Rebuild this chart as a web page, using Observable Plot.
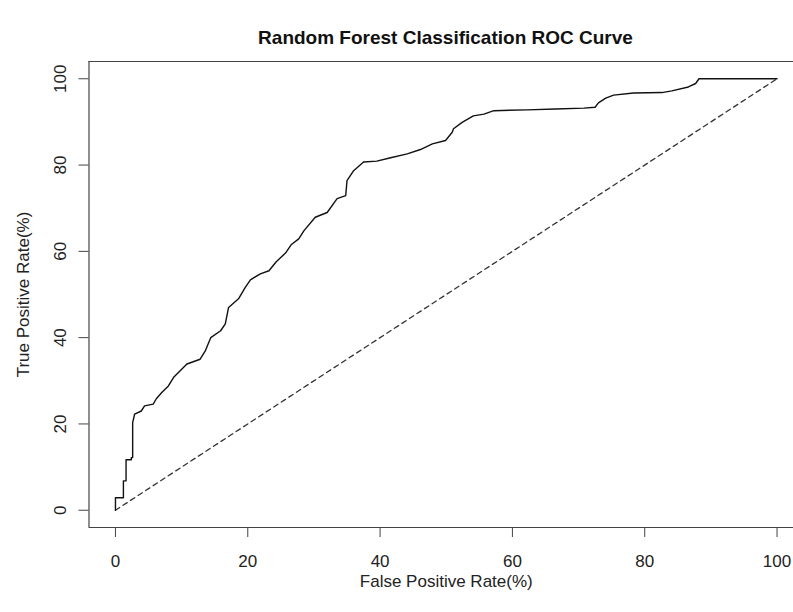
<!DOCTYPE html>
<html>
<head>
<meta charset="utf-8">
<script src="https://cdn.jsdelivr.net/npm/d3@7"></script>
<script src="https://cdn.jsdelivr.net/npm/@observablehq/plot@0.6"></script>
<style>
  html, body { margin: 0; padding: 0; background: #fff; overflow: hidden; }
  #wrap { width: 793px; height: 612px; overflow: hidden; position: relative; font-family: "Liberation Sans", Arial, sans-serif; }
  #title { width: 793px; height: 60px; box-sizing: border-box; padding-top: 27px; padding-left: 98px; text-align: center; font-weight: bold; font-size: 19px; line-height: 22px; color: #111; }
  #chart { width: 803px; }
  #chart svg { max-width: none !important; }
</style>
</head>
<body>
<div id="wrap">
  <div id="title">Random Forest Classification ROC Curve</div>
  <div id="chart"></div>
</div>
<script>
const titleText = "Random Forest Classification ROC Curve";
const xLabel = "False Positive Rate(%)";
const yLabel = "True Positive Rate(%)";
const xTicks = [0, 20, 40, 60, 80, 100];
const yTicks = [0, 20, 40, 60, 80, 100];
const axisLimits = [-4, 104];

// ROC curve vertices (percent)
const fpr = [0, 0, 1.2, 1.2, 1.6, 1.6, 2.4, 2.4, 2.6, 2.6, 2.9, 3.9, 4.4, 5.7, 6.2, 7.0, 8.0, 8.8,
  10.8, 12.8, 13.6, 14.4, 15.9, 16.6, 17.1, 18.6, 19.6, 20.4, 21.9, 23.2, 24.3, 25.7, 26.6, 27.7,
  28.5, 30.2, 32.0, 33.5, 34.8, 35.0, 36.0, 37.5, 39.5, 41.6, 44.1, 46.1, 47.9, 49.9, 50.9, 51.1,
  52.4, 54.1, 55.7, 57.2, 62.2, 66.5, 70.8, 72.5, 73.0, 74.1, 75.3, 78.3, 82.6, 84.1, 86.6, 87.7,
  88.2, 100];
const tpr = [0, 2.9, 2.9, 6.8, 6.8, 11.7, 11.7, 12.2, 12.2, 20.3, 22.3, 23.0, 24.2, 24.6, 25.9, 27.3, 28.8, 30.8,
  33.9, 35.0, 37.0, 40.0, 41.6, 43.2, 47.0, 49.0, 51.6, 53.4, 54.8, 55.5, 57.6, 59.6, 61.6, 62.9,
  64.8, 67.9, 69.0, 72.2, 72.9, 76.4, 78.7, 80.7, 80.9, 81.7, 82.6, 83.6, 84.9, 85.7, 87.6, 88.4,
  89.9, 91.4, 91.8, 92.6, 92.8, 93.0, 93.2, 93.4, 94.4, 95.5, 96.2, 96.7, 96.8, 97.2, 98.1, 98.9,
  100, 100];
const chanceX = [0, 100];
const chanceY = [0, 100];

const roc = fpr.map((x, i) => ({x, y: tpr[i]}));
const chance = chanceX.map((x, i) => ({x, y: chanceY[i]}));

const chart = Plot.plot({
  width: 803,
  height: 552,
  marginLeft: 88.5,
  marginRight: 0,
  marginTop: 1,
  marginBottom: 85,
  style: {fontFamily: "'Liberation Sans', Arial, sans-serif", fontSize: "17px", color: "#222", background: "#fff", maxWidth: "none"},
  x: {domain: axisLimits, label: null},
  y: {domain: axisLimits, label: null},
  marks: [
    Plot.ruleY(axisLimits, {stroke: "#444", strokeWidth: 1.2}),
    Plot.ruleX([axisLimits[0]], {stroke: "#444", strokeWidth: 1.2}),
    Plot.axisX({ticks: xTicks, tickSize: 10, tickPadding: 17, tickFormat: d => String(d), label: null, stroke: "#444", fontSize: 17, fill: "#222"}),
    Plot.axisY({ticks: yTicks, tickSize: 10, tickFormat: () => "", label: null, stroke: "#444"}),
    Plot.text(yTicks, {y: d => d, text: d => String(d), frameAnchor: "left", textAnchor: "middle", lineAnchor: "middle", dx: -28.5, rotate: -90, fontSize: 17, fill: "#222"}),
    Plot.text([xLabel], {x: () => 50, text: d => d, frameAnchor: "bottom", lineAnchor: "middle", dy: 54, fontSize: 17, fill: "#222"}),
    Plot.text([yLabel], {text: d => d, frameAnchor: "left", textAnchor: "middle", lineAnchor: "middle", dx: -65.5, rotate: -90, fontSize: 17, fill: "#222"}),
    Plot.line(chance, {x: "x", y: "y", stroke: "#333", strokeWidth: 1.3, strokeDasharray: "5,4"}),
    Plot.line(roc, {x: "x", y: "y", stroke: "#111", strokeWidth: 1.4})
  ]
});
document.getElementById("chart").appendChild(chart);
</script>
</body>
</html>
